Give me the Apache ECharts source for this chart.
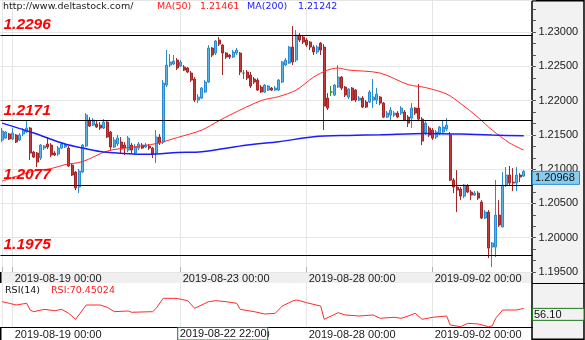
<!DOCTYPE html>
<html>
<head>
<meta charset="utf-8">
<script src="https://cdn.jsdelivr.net/npm/echarts@6/dist/echarts.min.js"></script>
<style>
html,body{margin:0;padding:0;background:#fff;}
#c{width:585px;height:340px;}
</style>
</head>
<body>
<div id="c"></div>
<script>
// EUR/USD, 2-hour bars
const tradingDays = ['2019-08-16','2019-08-19','2019-08-20','2019-08-21','2019-08-22','2019-08-23',
  '2019-08-26','2019-08-27','2019-08-28','2019-08-29','2019-08-30','2019-09-02','2019-09-03','2019-09-04'];
const firstSlot = 9;          // first bar: 18:00 on the opening day
const axisSlots = 152;        // bars plus two empty slots on the right

const tickLabels = ['2019-08-19 00:00','2019-08-23 00:00','2019-08-28 00:00','2019-09-02 00:00'];
const crossTime = '2019-08-22 22:00';

// open, close, low, high
const candles = [
 [1.21425,1.21556,1.21396,1.21600],[1.21454,1.21542,1.21440,1.21556],[1.21513,1.21440,1.21425,1.21527],
 [1.21440,1.21527,1.21425,1.21600],[1.21498,1.21396,1.21381,1.21513],[1.21425,1.21498,1.21410,1.21527],
 [1.21513,1.21571,1.21483,1.21600],[1.21542,1.21600,1.21527,1.21701],[1.21600,1.21235,1.21133,1.21615],
 [1.21250,1.21177,1.21162,1.21264],[1.21235,1.21104,1.21031,1.21250],[1.21162,1.21352,1.21133,1.21367],
 [1.21308,1.21338,1.21279,1.21352],[1.21367,1.21323,1.21294,1.21469],[1.21352,1.21206,1.21177,1.21381],
 [1.21235,1.21206,1.21191,1.21264],[1.21221,1.21308,1.21191,1.21338],[1.21308,1.21367,1.21294,1.21381],
 [1.21323,1.21352,1.21308,1.21381],[1.21308,1.21046,1.21031,1.21338],[1.21060,1.20914,1.20900,1.21075],
 [1.20958,1.20725,1.20695,1.20972],[1.20739,1.20972,1.20651,1.21002],[1.20958,1.21352,1.20943,1.21367],
 [1.21338,1.21789,1.21323,1.21818],[1.21716,1.21629,1.21615,1.21760],[1.21643,1.21716,1.21629,1.21745],
 [1.21658,1.21615,1.21600,1.21701],[1.21643,1.21600,1.21571,1.21687],[1.21600,1.21687,1.21585,1.21731],
 [1.21687,1.21469,1.21454,1.21716],[1.21542,1.21323,1.21279,1.21556],[1.21323,1.21425,1.21308,1.21469],
 [1.21367,1.21454,1.21338,1.21498],[1.21396,1.21294,1.21235,1.21469],[1.21352,1.21308,1.21206,1.21396],
 [1.21279,1.21454,1.21250,1.21483],[1.21352,1.21279,1.21235,1.21381],[1.21235,1.21323,1.21206,1.21367],
 [1.21308,1.21367,1.21279,1.21396],[1.21352,1.21308,1.21294,1.21381],[1.21323,1.21352,1.21308,1.21381],
 [1.21338,1.21308,1.21279,1.21367],[1.21308,1.21221,1.21162,1.21323],[1.21235,1.21469,1.21089,1.21571],
 [1.21469,1.21381,1.21352,1.21513],[1.21396,1.22256,1.21367,1.22300],[1.22227,1.22519,1.22198,1.22738],
 [1.22519,1.22563,1.22490,1.22680],[1.22534,1.22577,1.22519,1.22665],[1.22592,1.22475,1.22446,1.22621],
 [1.22504,1.22563,1.22490,1.22592],[1.22490,1.22446,1.22431,1.22519],[1.22475,1.22417,1.22402,1.22490],
 [1.22402,1.22300,1.22271,1.22431],[1.22315,1.22008,1.21979,1.22344],[1.22008,1.22052,1.21964,1.22096],
 [1.22037,1.22183,1.22023,1.22198],[1.22125,1.22271,1.22110,1.22300],[1.22271,1.22767,1.22256,1.22810],
 [1.22767,1.22665,1.22636,1.22781],[1.22694,1.22869,1.22665,1.22884],[1.22884,1.22825,1.22796,1.22927],
 [1.22810,1.22694,1.22373,1.22825],[1.22694,1.22636,1.22607,1.22709],[1.22665,1.22636,1.22607,1.22680],
 [1.22636,1.22709,1.22621,1.22738],[1.22694,1.22738,1.22665,1.22767],[1.22694,1.22417,1.22373,1.22709],
 [1.22402,1.22402,1.22315,1.22446],[1.22417,1.22329,1.22300,1.22446],[1.22373,1.22213,1.22183,1.22417],
 [1.22315,1.22271,1.22242,1.22344],[1.22300,1.22154,1.22140,1.22329],[1.22198,1.22125,1.22110,1.22227],
 [1.22125,1.22227,1.22110,1.22242],[1.22154,1.22213,1.22140,1.22227],[1.22183,1.22154,1.22140,1.22198],
 [1.22154,1.22183,1.22140,1.22213],[1.22154,1.22300,1.22140,1.22315],[1.22271,1.22563,1.22256,1.22577],
 [1.22519,1.22592,1.22504,1.22621],[1.22548,1.22781,1.22534,1.22796],[1.22781,1.22563,1.22519,1.23088],
 [1.22592,1.22956,1.22563,1.23029],[1.22956,1.22884,1.22854,1.22985],[1.22927,1.22854,1.22825,1.22956],
 [1.22884,1.22810,1.22781,1.22913],[1.22854,1.22781,1.22738,1.22869],[1.22781,1.22709,1.22665,1.22810],
 [1.22709,1.22781,1.22680,1.22810],[1.22840,1.22738,1.22665,1.22854],[1.22781,1.21920,1.21571,1.22825],
 [1.22037,1.21891,1.21862,1.22110],[1.22125,1.22125,1.22067,1.22213],[1.22081,1.22227,1.22067,1.22242],
 [1.22198,1.22344,1.22183,1.22519],[1.22344,1.22183,1.22154,1.22358],[1.22198,1.22081,1.22052,1.22213],
 [1.22052,1.22169,1.22023,1.22183],[1.22183,1.22008,1.21993,1.22198],[1.22154,1.22008,1.21979,1.22169],
 [1.22008,1.22037,1.21993,1.22067],[1.22037,1.21906,1.21891,1.22067],[1.21979,1.21906,1.21891,1.22008],
 [1.21979,1.22125,1.21964,1.22154],[1.22008,1.22052,1.21891,1.22315],[1.22008,1.22096,1.21950,1.22183],
 [1.22052,1.21964,1.21935,1.22067],[1.21964,1.21760,1.21745,1.21979],[1.21760,1.21818,1.21745,1.21847],
 [1.21789,1.21862,1.21716,1.21906],[1.21789,1.21818,1.21760,1.21847],[1.21818,1.21760,1.21745,1.21847],
 [1.21818,1.21891,1.21789,1.21920],[1.21833,1.21716,1.21701,1.21862],[1.21760,1.21672,1.21614,1.21789],
 [1.21745,1.21891,1.21600,1.21964],[1.21891,1.21818,1.21789,1.21906],[1.21891,1.21731,1.21701,1.22242],
 [1.21731,1.21410,1.21352,1.21760],[1.21527,1.21672,1.21498,1.21701],[1.21600,1.21498,1.21469,1.21629],
 [1.21571,1.21454,1.21425,1.21600],[1.21469,1.21542,1.21440,1.21571],[1.21527,1.21615,1.21498,1.21629],
 [1.21542,1.21615,1.21513,1.21716],[1.21585,1.21643,1.21556,1.21745],[1.21498,1.20841,1.20826,1.21542],
 [1.20841,1.20739,1.20651,1.20870],[1.20739,1.20695,1.20374,1.20987],[1.20710,1.20607,1.20549,1.20739],
 [1.20607,1.20768,1.20578,1.20783],[1.20753,1.20666,1.20651,1.20783],[1.20666,1.20622,1.20549,1.20695],
 [1.20622,1.20651,1.20607,1.20680],[1.20651,1.20578,1.20549,1.20680],[1.20520,1.20287,1.20272,1.20549],
 [1.20287,1.20374,1.20272,1.20404],[1.20374,1.19849,1.19703,1.20404],[1.19864,1.19922,1.19572,1.19937],
 [1.19864,1.20331,1.19718,1.20841],[1.20331,1.20185,1.20156,1.20549],[1.20156,1.20768,1.20156,1.20958],
 [1.20768,1.20914,1.20739,1.21031],[1.20914,1.20797,1.20768,1.21046],[1.20812,1.20797,1.20680,1.21016],
 [1.20797,1.20914,1.20680,1.21031],[1.20914,1.20885,1.20812,1.20943],[1.20900,1.20968,1.20885,1.20987]
];

// moving averages, [bar index, value]
const ma50 = [[0,1.20826],[9,1.20972],[14,1.21009],[18,1.21067],[23,1.21111],[30,1.21264],[37,1.21322],
  [44,1.21373],[50,1.21461],[57,1.21570],[62,1.21709],[65,1.21789],[74,1.22001],[79,1.22059],[84,1.22154],
  [89,1.22344],[93,1.22446],[96,1.22475],[99,1.22446],[108,1.22402],[116,1.22234],[121,1.22190],
  [127,1.22096],[131,1.21957],[136,1.21753],[140,1.21570],[145,1.21381],[149,1.21279]];
const ma200 = [[0,1.21672],[9,1.21527],[18,1.21366],[23,1.21308],[28,1.21257],[33,1.21235],[42,1.21216],
  [50,1.21242],[57,1.21254],[70,1.21352],[79,1.21400],[89,1.21473],[99,1.21493],[108,1.21502],
  [121,1.21522],[131,1.21512],[140,1.21497],[149,1.21487]];

// RSI(14), [bar index, value]
const rsi = [[0,65.8],[2,63.5],[4,61.0],[7,63.5],[8,53.7],[9,51.3],[12,54.7],[15,52.7],[17,54.7],[19,48.9],
  [21,40.2],[24,61.0],[28,61.0],[30,57.7],[32,51.3],[36,52.3],[37,50.4],[43,51.3],[44,56.2],[46,70.7],
  [49,70.7],[50,70.45024],[53,67.3],[55,56.2],[59,65.8],[61,67.3],[64,65.8],[67,63.5],[68,54.7],[72,51.3],
  [75,47.9],[78,48.9],[80,59.5],[83,66.8],[84,68.3],[85,67.3],[87,64.3],[91,59.5],[92,40.2],[94,45.0],
  [96,49.8],[98,46.5],[102,45.0],[106,46.5],[108,41.7],[112,43.1],[114,41.7],[116,45.0],[118,48.9],
  [120,40.2],[123,43.1],[127,45.0],[128,31.9],[131,29.4],[133,34.4],[136,33.4],[139,29.4],[140,30.5],
  [141,41.7],[143,53.7],[147,53.7],[149,56.10]];

// horizontal support / resistance levels
const levels = [1.2296, 1.2171, 1.2077, 1.1975];

// ---- build the time axis ----
const allSlots = [];
tradingDays.forEach(d => {
  for (let h = 0; h < 24; h += 2) allSlots.push(d + ' ' + String(h).padStart(2, '0') + ':00');
});
const categories = allSlots.slice(firstSlot, firstSlot + axisSlots);
const tickIdx = tickLabels.map(t => categories.indexOf(t));
const gridIdx = [0].concat(tickIdx);
const crossIdx = categories.indexOf(crossTime);
const valueAt = (arr, i) => { const p = arr.find(d => d[0] === i); return p ? p[1] : null; };

const lastClose = candles[candles.length - 1][1];
const lastRsi = rsi[rsi.length - 1][1];

const AX_FONT = 'Liberation Sans';
const GRID_LINE = '#e6e6e6';

function timeAxis(gridIndex, showLine) {
  return {
    type: 'category', gridIndex: gridIndex, data: categories, boundaryGap: true,
    axisLine: {show: showLine, lineStyle: {color: '#000', width: 1}},
    axisTick: {show: !showLine, inside: true, length: 5, alignWithLabel: true,
      interval: i => gridIdx.indexOf(i) >= 0, lineStyle: {color: '#b0b0b0'}},
    axisLabel: {interval: i => tickIdx.indexOf(i) >= 0, align: 'left', margin: showLine ? 2 : 1,
      padding: [0, 0, 0, 2], color: '#1a1a1a', fontFamily: AX_FONT, fontSize: 11},
    splitLine: {show: true, alignWithLabel: true, interval: i => gridIdx.indexOf(i) >= 0,
      lineStyle: {color: GRID_LINE, width: 1}}
  };
}

const chart = echarts.init(document.getElementById('c'), null, {renderer: 'canvas'});

chart.setOption({
  animation: false,
  backgroundColor: '#fff',
  grid: [
    {left: 0.45, top: 0, width: 532, height: 272, outerBoundsMode: 'none', containLabel: false},
    {left: 0.45, top: 283, width: 532, height: 44, outerBoundsMode: 'none', containLabel: false}
  ],
  xAxis: [timeAxis(0, false), timeAxis(1, true)],
  yAxis: [
    {
      type: 'value', gridIndex: 0, position: 'right', min: 1.195, max: 1.23468, interval: 0.005,
      axisLine: {show: false},
      axisTick: {show: true, length: 3.5, lineStyle: {color: '#555'}},
      minorTick: {show: true, splitNumber: 3, length: 3.5, lineStyle: {color: '#555'}},
      axisLabel: {margin: 6, color: '#1a1a1a', fontFamily: AX_FONT, fontSize: 11,
        formatter: v => Math.abs(v / 0.005 - Math.round(v / 0.005)) < 1e-6 ? v.toFixed(5) : ''},
      splitLine: {show: true, lineStyle: {color: GRID_LINE, width: 1}}
    },
    {
      type: 'value', gridIndex: 1, position: 'right', min: 29, max: 93, interval: 21,
      axisLine: {show: false}, axisTick: {show: false},
      axisLabel: {margin: 4, color: '#1a1a1a', fontFamily: AX_FONT, fontSize: 11,
        formatter: v => v === 50 ? '50.00' : ''},
      splitLine: {show: false}
    }
  ],
  series: [
    {
      type: 'candlestick', xAxisIndex: 0, yAxisIndex: 0, data: candles, barWidth: 2.2,
      itemStyle: {color: '#5db3e8', color0: '#c23a3a', borderColor: '#2a8ad2', borderColor0: '#a52626',
        borderColorDoji: '#2e8b2e', borderWidth: 1},
      markLine: {
        silent: true, symbol: ['none', 'none'], animation: false, precision: 4,
        lineStyle: {color: '#000', width: 1.2, type: 'solid'},
        label: {position: 'insideStartTop', distance: [3, 2], formatter: p => Number(p.value).toFixed(4),
          color: '#ff0000', fontFamily: 'Liberation Sans', fontWeight: 'bold', fontStyle: 'italic', fontSize: 15.5},
        emphasis: {disabled: true},
        data: levels.map(v => ({yAxis: v}))
      }
    },
    {
      type: 'line', xAxisIndex: 0, yAxisIndex: 0, data: ma50, showSymbol: false, smooth: 0.3,
      connectNulls: true, lineStyle: {color: '#ff2a2a', width: 1}, silent: true
    },
    {
      type: 'line', xAxisIndex: 0, yAxisIndex: 0, data: ma200, showSymbol: false, smooth: 0.3,
      connectNulls: true, lineStyle: {color: '#1c1cff', width: 1.5}, silent: true
    },
    {
      type: 'line', xAxisIndex: 1, yAxisIndex: 1, data: rsi, showSymbol: false,
      lineStyle: {color: '#ff2a2a', width: 1}, silent: true
    }
  ]
});

// labels that sit on scale positions
const priceY = chart.convertToPixel({yAxisIndex: 0}, lastClose);
const rsiY = chart.convertToPixel({yAxisIndex: 1}, lastRsi);
const crossX = chart.convertToPixel({xAxisIndex: 1}, categories[crossIdx]);

function txt(x, y, s, color, font, z) {
  return {type: 'text', x: x, y: y, z: z || 50, silent: true,
    style: {text: s, fill: color, font: font, verticalAlign: 'middle', textVerticalAlign: 'middle',
      align: 'left', textAlign: 'left'}};
}
const HEAD = '9.5px "DejaVu Sans"';

chart.setOption({
  graphic: [
    // date band under the price panel
    {type: 'rect', z: -1, silent: true, shape: {x: 0, y: 272, width: 532, height: 11}, style: {fill: '#efefef'}},
    {type: 'rect', z: 5, silent: true, shape: {x: 0, y: 272, width: 1.5, height: 11}, style: {fill: '#000'}},
    {type: 'rect', z: 5, silent: true, shape: {x: 0, y: 327, width: 1.5, height: 13}, style: {fill: '#000'}},
    // price scale panel
    {type: 'rect', z: -1, silent: true, shape: {x: 532, y: 0.75, width: 52, height: 338.5},
      style: {fill: '#f2f2f2', stroke: '#000', lineWidth: 1.5}},
    {type: 'line', z: 5, silent: true, shape: {x1: 532, y1: 283.5, x2: 585, y2: 283.5},
      style: {stroke: '#000', lineWidth: 1.2}},
    // header
    txt(3, 7, 'http://www.deltastock.com/', '#1a1a1a', HEAD),
    txt(157, 7, 'MA(50)', '#ff1a1a', HEAD),
    txt(200, 7, valueAt(ma50, crossIdx).toFixed(5), '#ff1a1a', HEAD),
    txt(247, 7, 'MA(200)', '#1a1aff', HEAD),
    txt(298, 7, valueAt(ma200, crossIdx).toFixed(5), '#1a1aff', HEAD),
    // RSI header
    txt(5, 291, 'RSI(14)', '#111', HEAD),
    txt(51, 291, 'RSI:' + valueAt(rsi, crossIdx), '#ff1a1a', HEAD),
    // last price tag
    {type: 'rect', z: 60, silent: true, shape: {x: 532.5, y: priceY, width: 47, height: 13},
      style: {fill: '#88ccee', stroke: '#2a8fd0', lineWidth: 1}},
    txt(535, priceY + 6.8, lastClose.toFixed(5), '#111', '11px "Liberation Sans"', 61),
    // last RSI tag
    {type: 'rect', z: 60, silent: true, shape: {x: 532.5, y: rsiY, width: 51.5, height: 12},
      style: {fill: '#f2f2f2', stroke: '#1f7a1f', lineWidth: 1}},
    txt(534, rsiY + 6.3, lastRsi.toFixed(2), '#111', '11px "Liberation Sans"', 61),
    // crosshair time tag
    {type: 'rect', z: 60, silent: true, shape: {x: crossX + 0.5, y: 327.5, width: 90, height: 12.5},
      style: {fill: '#fff', stroke: '#1f7a1f', lineWidth: 1}},
    txt(crossX + 2.5, 334, categories[crossIdx], '#111', '11px "Liberation Sans"', 61)
  ]
});
</script>
</body>
</html>
